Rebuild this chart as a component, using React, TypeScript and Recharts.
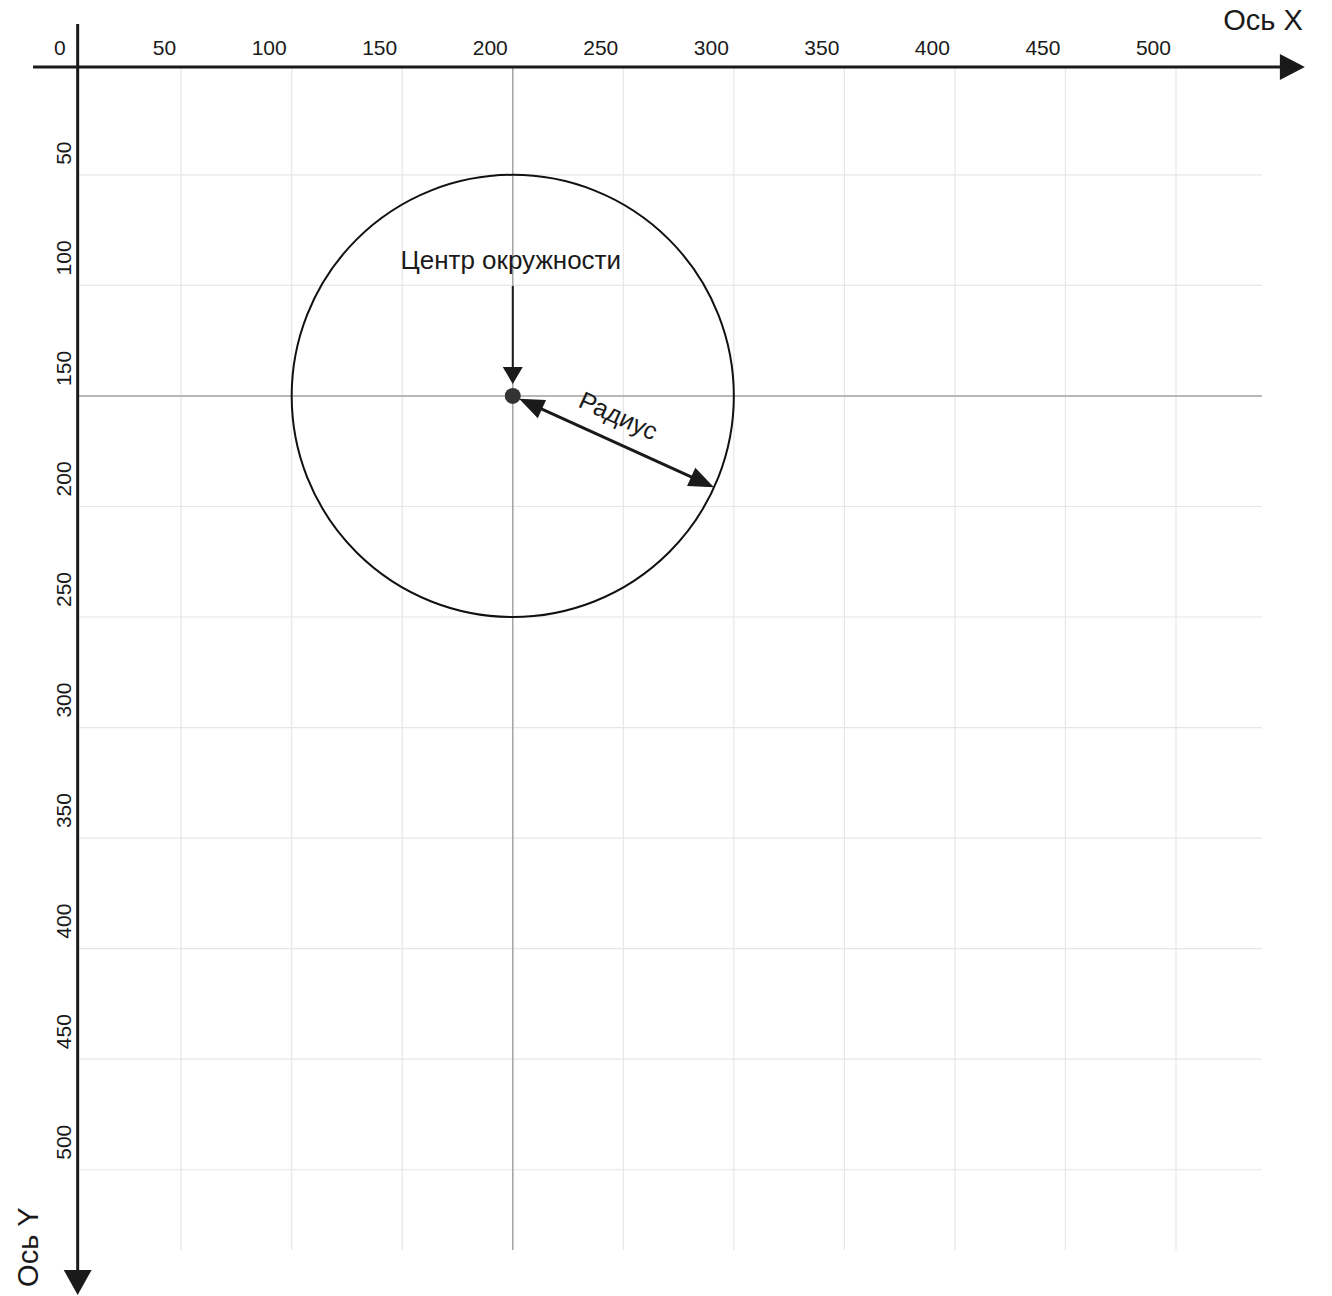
import { ScatterChart, Scatter, XAxis, YAxis, ReferenceLine } from "recharts";

const xTicks = [0, 50, 100, 150, 200, 250, 300, 350, 400, 450, 500];
const yTicks = [50, 100, 150, 200, 250, 300, 350, 400, 450, 500];
const gridValues = [50, 100, 150, 200, 250, 300, 350, 400, 450, 500];
const centerPoint = [{ x: 200, y: 150 }];
const circleRadius = 100;
const radiusEnd = { x: 291, y: 191.3 };
const centerLabelFrom = { x: 200, y: 100.3 };
const centerLabel = "Центр окружности";
const radiusLabel = "Радиус";
const axisLabels = ["Ось X", "Ось Y"];

// plot window in data units (y grows downward)
const X_MAX = 538.9;
const Y_MAX = 536.3;
const AXIS_X = 3.2; // where the Y axis line sits
const AXIS_Y = 1.2; // where the X axis line sits
const X_AXIS_FROM = -17;
const X_AXIS_TO = 558.3;
const Y_AXIS_FROM = -18.2;
const Y_AXIS_TO = 556.6;

const FONT = "'Liberation Sans', Arial, sans-serif";
const INK = "#1a1a1a";

type Seg = { x1: number; y1: number; x2: number; y2: number };

function head(tx: number, ty: number, ux: number, uy: number, len: number, half: number) {
  const bx = tx - ux * len;
  const by = ty - uy * len;
  return `${tx},${ty} ${bx - uy * half},${by + ux * half} ${bx + uy * half},${by - ux * half}`;
}

function Arrow({ x1, y1, x2, y2, w, len, half, gap = 0, both = false }: Seg & {
  w: number; len: number; half: number; gap?: number; both?: boolean;
}) {
  const dx = x2 - x1, dy = y2 - y1;
  const d = Math.hypot(dx, dy);
  const ux = dx / d, uy = dy / d;
  const sx = x1 + ux * gap, sy = y1 + uy * gap;
  const lx1 = both ? sx + ux * (len - 3) : x1;
  const ly1 = both ? sy + uy * (len - 3) : y1;
  return (
    <g>
      <line x1={lx1} y1={ly1} x2={x2 - ux * (len - 3)} y2={y2 - uy * (len - 3)} stroke={INK} strokeWidth={w} />
      <polygon points={head(x2, y2, ux, uy, len, half)} fill={INK} />
      {both && <polygon points={head(sx, sy, -ux, -uy, len, half)} fill={INK} />}
    </g>
  );
}

const XTick = (p: any) => (
  <text x={p.x - 5} y={55} textAnchor="end" fontSize={21} fontFamily={FONT} fill={INK}>
    {p.payload.value}
  </text>
);

const YTick = (p: any) => (
  <text transform={`translate(71 ${p.y - 10}) rotate(-90)`} textAnchor="start" fontSize={21} fontFamily={FONT} fill={INK}>
    {p.payload.value}
  </text>
);

export default function App() {
  return (
    <div style={{ position: "absolute", left: 0, top: 0, width: 1332, height: 1296, background: "#fff" }}>
      <ScatterChart width={1332} height={1296} margin={{ top: 34.3, left: 30.6, right: 70, bottom: 46 }}>
        <XAxis
          type="number" dataKey="x" orientation="top" height={30}
          domain={[0, X_MAX]} ticks={xTicks} interval={0} allowDataOverflow
          axisLine={false} tickLine={false} tick={XTick}
        />
        <YAxis
          type="number" dataKey="y" reversed width={40}
          domain={[0, Y_MAX]} ticks={yTicks} interval={0} allowDataOverflow
          axisLine={false} tickLine={false} tick={YTick}
        />

        {gridValues.map((v) => (
          <ReferenceLine key={"gx" + v} ifOverflow="visible" stroke="#e6e6e6" strokeWidth={1.2}
            segment={[{ x: v, y: AXIS_Y }, { x: v, y: Y_MAX }]} />
        ))}
        {gridValues.map((v) => (
          <ReferenceLine key={"gy" + v} ifOverflow="visible" stroke="#e6e6e6" strokeWidth={1.2}
            segment={[{ x: AXIS_X, y: v }, { x: X_MAX, y: v }]} />
        ))}

        {/* lines through the centre */}
        <ReferenceLine ifOverflow="visible" stroke="#a6a6a6" strokeWidth={1.5}
          segment={[{ x: centerPoint[0].x, y: AXIS_Y }, { x: centerPoint[0].x, y: Y_MAX }]} />
        <ReferenceLine ifOverflow="visible" stroke="#a6a6a6" strokeWidth={1.5}
          segment={[{ x: AXIS_X, y: centerPoint[0].y }, { x: X_MAX, y: centerPoint[0].y }]} />

        {/* circle: radius taken from the scale via a centre->edge segment */}
        <ReferenceLine ifOverflow="visible"
          segment={[centerPoint[0], { x: centerPoint[0].x + circleRadius, y: centerPoint[0].y }]}
          shape={(p: any) => (
            <circle cx={p.x1} cy={p.y1} r={Math.abs(p.x2 - p.x1)} fill="none" stroke="#111" strokeWidth={2} />
          )} />

        {/* axes */}
        <ReferenceLine ifOverflow="visible"
          segment={[{ x: X_AXIS_FROM, y: AXIS_Y }, { x: X_AXIS_TO, y: AXIS_Y }]}
          shape={(p: any) => (
            <g>
              <Arrow {...p} w={3} len={25} half={13} />
              <text x={p.x2 - 2} y={p.y2 - 37} textAnchor="end" fontSize={29} fontFamily={FONT} fill={INK}>
                {axisLabels[0]}
              </text>
            </g>
          )} />
        <ReferenceLine ifOverflow="visible"
          segment={[{ x: AXIS_X, y: Y_AXIS_FROM }, { x: AXIS_X, y: Y_AXIS_TO }]}
          shape={(p: any) => (
            <g>
              <Arrow {...p} w={3} len={25} half={14} />
              <text transform={`translate(${p.x2 - 40} ${p.y2 - 8}) rotate(-90)`} textAnchor="start"
                fontSize={29} fontFamily={FONT} fill={INK}>
                {axisLabels[1]}
              </text>
            </g>
          )} />

        {/* centre annotation */}
        <ReferenceLine ifOverflow="visible"
          segment={[centerLabelFrom, { x: centerPoint[0].x, y: centerPoint[0].y - 5.4 }]}
          shape={(p: any) => (
            <g>
              <Arrow {...p} w={2} len={17} half={10} />
              <text x={p.x1 - 2} y={p.y1 - 17} textAnchor="middle" fontSize={26} fontFamily={FONT} fill={INK}>
                {centerLabel}
              </text>
            </g>
          )} />

        {/* radius annotation */}
        <ReferenceLine ifOverflow="visible"
          segment={[centerPoint[0], radiusEnd]}
          shape={(p: any) => {
            const dx = p.x2 - p.x1, dy = p.y2 - p.y1;
            const d = Math.hypot(dx, dy);
            const ux = dx / d, uy = dy / d;
            const nx = uy, ny = -ux;
            const mx = (p.x1 + p.x2) / 2 + nx * 17 - ux * 6;
            const my = (p.y1 + p.y2) / 2 + ny * 17 - uy * 6;
            const ang = (Math.atan2(dy, dx) * 180) / Math.PI;
            return (
              <g>
                <Arrow {...p} w={3} len={25} half={10} gap={7} both />
                <text transform={`translate(${mx} ${my}) rotate(${ang})`} textAnchor="middle"
                  fontSize={25} fontFamily={FONT} fill={INK}>
                  {radiusLabel}
                </text>
              </g>
            );
          }} />

        <Scatter data={centerPoint} isAnimationActive={false}
          shape={(p: any) => <circle cx={p.cx} cy={p.cy} r={8} fill="#333" />} />
      </ScatterChart>
    </div>
  );
}
